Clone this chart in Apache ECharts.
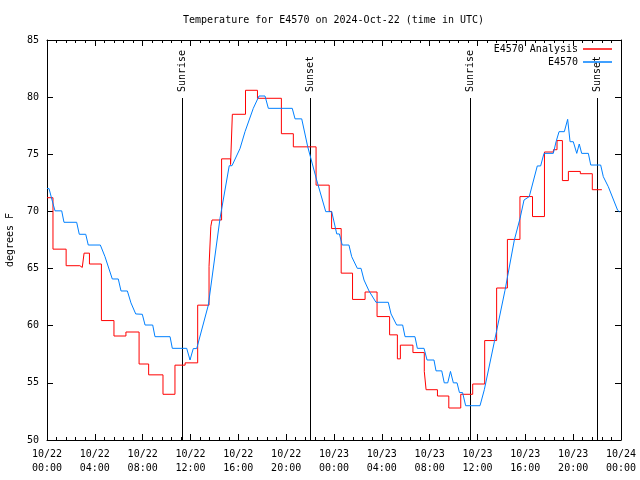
<!DOCTYPE html>
<html>
<head>
<meta charset="utf-8">
<script src="https://cdn.jsdelivr.net/npm/echarts@6/dist/echarts.min.js"></script>
<style>html,body{margin:0;padding:0;background:#fff}#c{width:640px;height:480px}</style>
</head>
<body>
<div id="c"></div>
<script>
// Hours since 2024-10-22 00:00 UTC
var xTickLabels = ['10/22\n00:00','10/22\n04:00','10/22\n08:00','10/22\n12:00','10/22\n16:00','10/22\n20:00',
  '10/23\n00:00','10/23\n04:00','10/23\n08:00','10/23\n12:00','10/23\n16:00','10/23\n20:00','10/24\n00:00'];

var sunHours = [11.33, 22.02, 35.4, 46.02];
var sunLabels = ['Sunrise', 'Sunset', 'Sunrise', 'Sunset'];

// E4570 Analysis (hourly, stepped)
var redHours = [0, 0.5, 1.6, 2.75, 2.95, 3.1, 3.55, 4.55, 5.6, 6.6, 7.7, 8.5, 9.7, 10.7, 11.55, 12.6, 13.55, 13.7, 13.8,
  14.6, 15.35, 15.5, 16.6, 17.6, 19.6, 20.6, 22.5, 23.6, 23.8, 24.6, 25.55, 26.6, 27.6, 28.65, 29.3, 29.55, 30.6,
  31.55, 31.7, 32.65, 33.6, 34.6, 35.6, 36.6, 37.6, 38.5, 39.55, 40.6, 41.6, 42.35, 42.65, 43.1, 43.6, 44.6, 45.6, 46.4];
var redTemps = [71.2, 66.7, 65.25, 65.1, 64.95, 66.35, 65.4, 60.45, 59.1, 59.45, 56.65, 55.7, 54.0, 56.55, 56.75, 61.8, 65.2, 68.7, 69.25,
  74.6, 74.1, 78.5, 80.6, 79.9, 76.8, 75.65, 72.3, 70.0, 68.5, 64.6, 62.3, 62.95, 60.8, 59.2, 57.1, 58.3, 57.65,
  56.0, 54.4, 53.85, 52.8, 54.0, 54.9, 58.7, 63.3, 67.55, 71.3, 69.55, 75.2, 75.4, 76.2, 72.7, 73.5, 73.3, 71.9, 71.9];

// E4570 observations
var blueHours = [0, 0.17, 0.42, 0.67, 1.23, 1.42, 2.48, 2.70, 3.24, 3.45, 4.46, 4.85, 5.46, 5.96, 6.19, 6.72, 7.02, 7.42, 7.97,
  8.2, 8.84, 9.03, 10.29, 10.48, 11.68, 11.96, 12.23, 12.52, 13.49, 14.47, 15.24, 15.47, 16.14, 16.56, 17.25, 17.73, 18.23,
  18.51, 20.51, 20.74, 21.3, 21.8, 22.55, 23.31, 23.81, 24.23, 24.45, 24.69, 25.25, 25.48, 25.95, 26.26, 26.51, 26.93, 27.51,
  28.54, 28.77, 29.24, 29.74, 29.94, 30.77, 30.97, 31.53, 31.78, 32.36, 32.53, 33.01, 33.22, 33.51, 33.74, 33.98, 34.29, 34.49,
  34.75, 35.01, 36.21, 36.57, 37.41, 38.3, 39.08, 39.56, 39.89, 40.33, 41.0, 41.28, 41.56, 42.34, 42.57, 42.82, 43.26, 43.54,
  43.74, 44.01, 44.3, 44.51, 44.71, 45.27, 45.47, 46.3, 46.52, 46.94, 47.72, 47.9];
var blueTemps = [72.0, 72.0, 71.0, 70.05, 70.05, 69.05, 69.05, 68.0, 68.0, 67.06, 67.06, 66.04, 64.09, 64.09, 63.04, 63.04, 62.0, 61.03, 61.0,
  60.06, 60.06, 59.04, 59.04, 58.02, 58.02, 57.0, 58.0, 58.0, 61.8, 69.4, 74.0, 74.0, 75.5, 76.98, 79.02, 80.1, 80.1,
  79.02, 79.02, 78.1, 78.1, 75.67, 72.75, 69.98, 69.98, 68.03, 68.03, 67.06, 67.06, 66.04, 65.02, 65.02, 64.0, 63.04, 62.05,
  62.05, 61.03, 60.06, 60.06, 59.04, 59.04, 58.02, 58.02, 57.0, 57.0, 56.05, 56.05, 55.0, 55.0, 56.0, 55.0, 55.0, 54.15,
  54.15, 53.0, 53.0, 54.4, 58.6, 63.1, 67.5, 69.4, 71.0, 71.3, 73.98, 73.98, 75.08, 75.08, 76.1, 76.98, 76.98, 78.06,
  76.1, 76.1, 75.08, 75.9, 75.08, 75.08, 74.06, 74.06, 73.04, 72.16, 70.1, 69.95];

function pairs(xs, ys) { return xs.map(function (x, i) { return [x, ys[i]]; }); }

var FONT = 'DejaVu Sans Mono';
var axisCommon = {
  axisLine: { show: true, onZero: false, lineStyle: { color: '#000', width: 1 } },
  splitLine: { show: false }
};
var legendText = { fontFamily: FONT, fontSize: 10, color: '#000' };

var chart = echarts.init(document.getElementById('c'), null, { renderer: 'canvas' });
chart.setOption({
  animation: false,
  backgroundColor: '#fff',
  title: {
    text: 'Temperature for E4570 on 2024-Oct-22 (time in UTC)',
    left: 183, top: 15, padding: 0,
    textStyle: { fontFamily: FONT, fontSize: 10, fontWeight: 'normal', color: '#000' }
  },
  grid: { left: 47, right: 19, top: 40, bottom: 40, outerBoundsMode: 'none', containLabel: false },
  legend: [
    { data: ['E4570 Analysis'], right: 28, top: 44, padding: 0, orient: 'vertical', align: 'right', icon: 'rect',
      itemWidth: 29, itemHeight: 1.5, textStyle: legendText },
    { data: ['E4570'], right: 28, top: 57, padding: 0, orient: 'vertical', align: 'right', icon: 'rect',
      itemWidth: 29, itemHeight: 1.5, textStyle: legendText }
  ],
  xAxis: [
    Object.assign({
      type: 'value', min: 0, max: 48, interval: 4,
      axisTick: { show: true, inside: true, length: 6, lineStyle: { color: '#000' } },
      minorTick: { show: true, splitNumber: 5, length: 3, lineStyle: { color: '#000' } },
      axisLabel: { fontFamily: FONT, fontSize: 10, color: '#000', margin: 7, lineHeight: 14,
        formatter: function (v) { return xTickLabels[Math.round(v / 4)]; } }
    }, axisCommon),
    Object.assign({
      type: 'value', min: 0, max: 48, interval: 4, position: 'top',
      axisTick: { show: true, inside: true, length: 6, lineStyle: { color: '#000' } },
      minorTick: { show: true, splitNumber: 5, length: 3, lineStyle: { color: '#000' } },
      axisLabel: { show: false }
    }, axisCommon)
  ],
  yAxis: [
    Object.assign({
      type: 'value', min: 50, max: 85, interval: 5,
      name: 'degrees F', nameLocation: 'middle', nameGap: 32, nameRotate: 90,
      nameTextStyle: { fontFamily: FONT, fontSize: 10, color: '#000' },
      axisTick: { show: true, inside: true, length: 6, lineStyle: { color: '#000' } },
      axisLabel: { fontFamily: FONT, fontSize: 10, color: '#000', margin: 8 }
    }, axisCommon),
    Object.assign({
      type: 'value', min: 50, max: 85, interval: 5, position: 'right',
      axisTick: { show: true, inside: true, length: 6, lineStyle: { color: '#000' } },
      axisLabel: { show: false }
    }, axisCommon)
  ],
  series: [
    {
      name: 'Sun', type: 'custom', xAxisIndex: 0, yAxisIndex: 0, silent: true, z: 1,
      data: sunHours.map(function (h, i) { return [h, sunLabels[i]]; }),
      renderItem: function (params, api) {
        var h = api.value(0);
        var bottom = api.coord([h, 50]);
        var top = api.coord([h, 85]);
        var x = Math.round(bottom[0]) + 0.5;
        return {
          type: 'group',
          children: [
            { type: 'line', shape: { x1: x, y1: bottom[1], x2: x, y2: top[1] + 58 },
              style: { stroke: '#000', lineWidth: 1 } },
            { type: 'text', x: x, y: top[1] + 52, rotation: Math.PI / 2,
              style: { text: sunLabels[params.dataIndex], fill: '#000', font: '10px "' + FONT + '"',
                align: 'left', verticalAlign: 'middle' } }
          ]
        };
      }
    },
    {
      name: 'E4570 Analysis', type: 'line', step: 'end', showSymbol: false, z: 3,
      data: pairs(redHours, redTemps),
      lineStyle: { color: '#ff0000', width: 1 }, itemStyle: { color: '#ff0000' }
    },
    {
      name: 'E4570', type: 'line', showSymbol: false, z: 4,
      data: pairs(blueHours, blueTemps),
      lineStyle: { color: '#0080ff', width: 1 }, itemStyle: { color: '#0080ff' }
    }
  ]
});
</script>
</body>
</html>
